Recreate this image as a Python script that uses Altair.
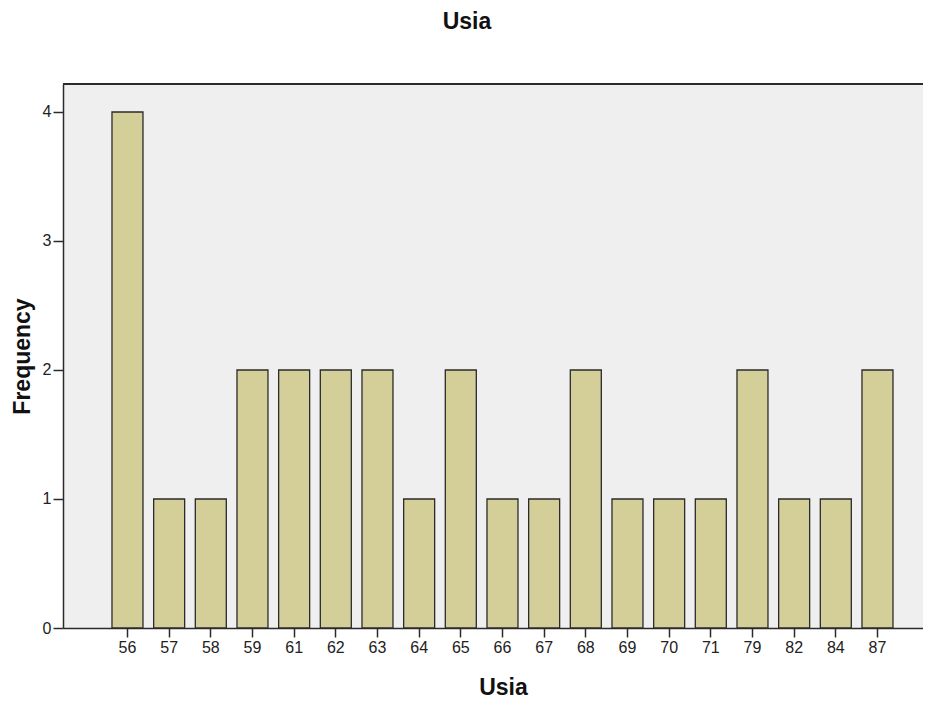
import altair as alt
import pandas as pd

ages = ["56", "57", "58", "59", "61", "62", "63", "64", "65", "66",
        "67", "68", "69", "70", "71", "79", "82", "84", "87"]
freqs = [4, 1, 1, 2, 2, 2, 2, 1, 2, 1, 1, 2, 1, 1, 1, 2, 1, 1, 2]

df = pd.DataFrame({"Usia": ages, "Frequency": freqs})

FONT = "Liberation Sans"
W, H = 860, 544

bars = alt.Chart(df).mark_bar(
    fill="#D4CF98", stroke="#2b2b2b", strokeWidth=1.3
).encode(
    x=alt.X("Usia:N", sort=ages,
            scale=alt.Scale(paddingInner=0.256, paddingOuter=0.948, align=0.62),
            axis=alt.Axis(title="Usia", labelAngle=0, tickSize=9, labelPadding=2,
                          titlePadding=21, titleX=440,
                          domainColor="#2b2b2b", tickColor="#2b2b2b",
                          domainWidth=1.5, tickWidth=1.5)),
    y=alt.Y("Frequency:Q",
            scale=alt.Scale(domain=[0, 4.217], nice=False, zero=True),
            axis=alt.Axis(title="Frequency", values=[0, 1, 2, 3, 4], format="d",
                          grid=False, tickSize=10, labelPadding=2, titlePadding=8,
                          domainColor="#2b2b2b", tickColor="#2b2b2b",
                          domainWidth=1.5, tickWidth=1.5)),
)

top_line = alt.Chart(df).mark_rule(color="#2b2b2b", strokeWidth=1.5).encode(
    x=alt.value(0), x2=alt.value(W), y=alt.value(0)
)

chart = alt.layer(bars, top_line).properties(
    width=W, height=H,
    title=alt.TitleParams("Usia", fontSize=23, font=FONT, fontWeight="bold",
                          anchor="middle", offset=49, dx=-26, color="#111"),
    autosize=alt.AutoSizeParams(type="none"),
    padding={"left": 55, "top": 76, "right": 0, "bottom": 72},
).configure_view(
    fill="#EFEFEF", stroke="transparent"
).configure_axis(
    labelFont=FONT, labelFontSize=16, labelColor="#222",
    titleFont=FONT, titleFontSize=23, titleFontWeight="bold", titleColor="#111",
)

chart.save("out.html", embed_options={"renderer": "svg", "actions": False})
